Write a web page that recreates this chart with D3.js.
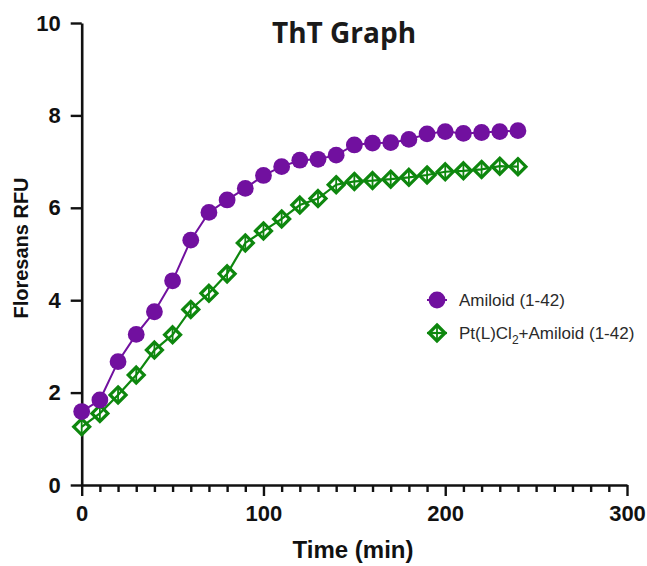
<!DOCTYPE html>
<html>
<head>
<meta charset="utf-8">
<script src="https://cdn.jsdelivr.net/npm/d3@7"></script>
<style>
  html, body { margin: 0; padding: 0; background: #fff; }
  svg { display: block; }
</style>
</head>
<body>
<svg id="chart" width="647" height="566"></svg>
<script>
// ThT fluorescence over time, two series
const times = [0, 10, 20, 30, 40, 50, 60, 70, 80, 90, 100, 110, 120,
               130, 140, 150, 160, 170, 180, 190, 200, 210, 220, 230, 240];
const amiloid = [1.59, 1.84, 2.67, 3.26, 3.75, 4.42, 5.30, 5.90, 6.17, 6.42, 6.70, 6.89, 7.03,
                 7.05, 7.14, 7.36, 7.40, 7.41, 7.48, 7.60, 7.65, 7.61, 7.63, 7.65, 7.67];
const ptAmiloid = [1.26, 1.55, 1.95, 2.38, 2.92, 3.25, 3.80, 4.15, 4.57, 5.24, 5.50, 5.76, 6.06,
                   6.20, 6.50, 6.57, 6.59, 6.62, 6.66, 6.71, 6.78, 6.80, 6.83, 6.90, 6.89];
const xTicks = [0, 100, 200, 300];
const xMinorTicks = d3.range(0, 301, 10);
const yTicks = [0, 2, 4, 6, 8, 10];
const seriesNames = ["Amiloid (1-42)", "Pt(L)Cl2+Amiloid (1-42)"];

const PURPLE = "#71109f";
const GREEN = "#0e870e";

const svg = d3.select("#chart");

const x = d3.scaleLinear().domain([0, 300]).range([81.7, 627]);
const y = d3.scaleLinear().domain([0, 10]).range([485, 23]);

// title
svg.append("text")
  .attr("x", 344).attr("y", 43)
  .attr("text-anchor", "middle")
  .style("font-family", "'Open Sans', sans-serif")
  .style("font-weight", 700)
  .style("font-size", "28px")
  .attr("fill", "#1a1a1a")
  .text("ThT Graph");

// axes
const axisFont = g => g.selectAll("text")
  .style("font-family", "'Liberation Sans', Arial, sans-serif")
  .style("font-weight", 700)
  .style("font-size", "22px")
  .attr("fill", "#111");

const yAxis = svg.append("g")
  .attr("transform", `translate(${x(0)},0)`)
  .call(d3.axisLeft(y).tickValues(yTicks).tickSize(11).tickPadding(10).tickSizeOuter(0))
  .call(axisFont);

const xMinor = svg.append("g")
  .attr("transform", `translate(0,${y(0)})`)
  .call(d3.axisBottom(x).tickValues(xMinorTicks.filter(v => v % 100 !== 0))
        .tickSize(7).tickFormat("").tickSizeOuter(0));
xMinor.select(".domain").remove();

const xAxis = svg.append("g")
  .attr("transform", `translate(0,${y(0)})`)
  .call(d3.axisBottom(x).tickValues(xTicks).tickSize(11).tickPadding(9).tickSizeOuter(0))
  .call(axisFont);

svg.selectAll(".domain").attr("stroke", "#111").attr("stroke-width", 2.6);
svg.selectAll(".tick line").attr("stroke", "#111").attr("stroke-width", 2.4);

// axis titles
svg.append("text")
  .attr("transform", "translate(28,248) rotate(-90)")
  .attr("text-anchor", "middle")
  .style("font-family", "'Liberation Sans', Arial, sans-serif")
  .style("font-weight", 700)
  .style("font-size", "20px")
  .attr("fill", "#111")
  .text("Floresans RFU");

svg.append("text")
  .attr("x", 353).attr("y", 558)
  .attr("text-anchor", "middle")
  .style("font-family", "'Liberation Sans', Arial, sans-serif")
  .style("font-weight", 700)
  .style("font-size", "24px")
  .attr("fill", "#111")
  .text("Time (min)");

// series lines
const line = d3.line().x(d => x(d[0])).y(d => y(d[1]));
const purplePts = times.map((t, i) => [t, amiloid[i]]);
const greenPts = times.map((t, i) => [t, ptAmiloid[i]]);

svg.append("path").datum(purplePts)
  .attr("d", line).attr("fill", "none")
  .attr("stroke", PURPLE).attr("stroke-width", 2);

// diamond marker drawn around a point
function diamond(g, cx, cy, r) {
  g.append("path")
    .attr("d", `M${cx},${cy - r}L${cx + r},${cy}L${cx},${cy + r}L${cx - r},${cy}Z`)
    .attr("fill", "#fff").attr("stroke", GREEN).attr("stroke-width", 3.2);
  g.append("line")
    .attr("x1", cx).attr("x2", cx).attr("y1", cy - r).attr("y2", cy + r)
    .attr("stroke", GREEN).attr("stroke-width", 1.8);
}

const gGreen = svg.append("g");
greenPts.forEach(d => diamond(gGreen, x(d[0]), y(d[1]), 8));
svg.append("path").datum(greenPts)
  .attr("d", line).attr("fill", "none")
  .attr("stroke", GREEN).attr("stroke-width", 2.2);

svg.append("g").selectAll("circle").data(purplePts).join("circle")
  .attr("cx", d => x(d[0])).attr("cy", d => y(d[1]))
  .attr("r", 8.4).attr("fill", PURPLE);

// legend
const legend = svg.append("g");
const lx = 437, ly = [300, 333];
legend.append("line").attr("x1", lx - 10).attr("x2", lx + 10)
  .attr("y1", ly[0]).attr("y2", ly[0]).attr("stroke", PURPLE).attr("stroke-width", 2);
legend.append("circle").attr("cx", lx).attr("cy", ly[0]).attr("r", 8.4).attr("fill", PURPLE);
diamond(legend, lx, ly[1], 8);
legend.append("line").attr("x1", lx - 10).attr("x2", lx + 10)
  .attr("y1", ly[1]).attr("y2", ly[1]).attr("stroke", GREEN).attr("stroke-width", 2.2);

const legendText = (yy) => legend.append("text")
  .attr("x", 459).attr("y", yy + 6)
  .style("font-family", "'Liberation Sans', Arial, sans-serif")
  .style("font-size", "17px")
  .attr("fill", "#2a2a2a");

legendText(ly[0]).text(seriesNames[0]);
const t2 = legendText(ly[1]);
t2.append("tspan").text("Pt(L)Cl");
t2.append("tspan").attr("dy", 5).style("font-size", "12px").text("2");
t2.append("tspan").attr("dy", -5).text("+Amiloid (1-42)");
</script>
</body>
</html>
